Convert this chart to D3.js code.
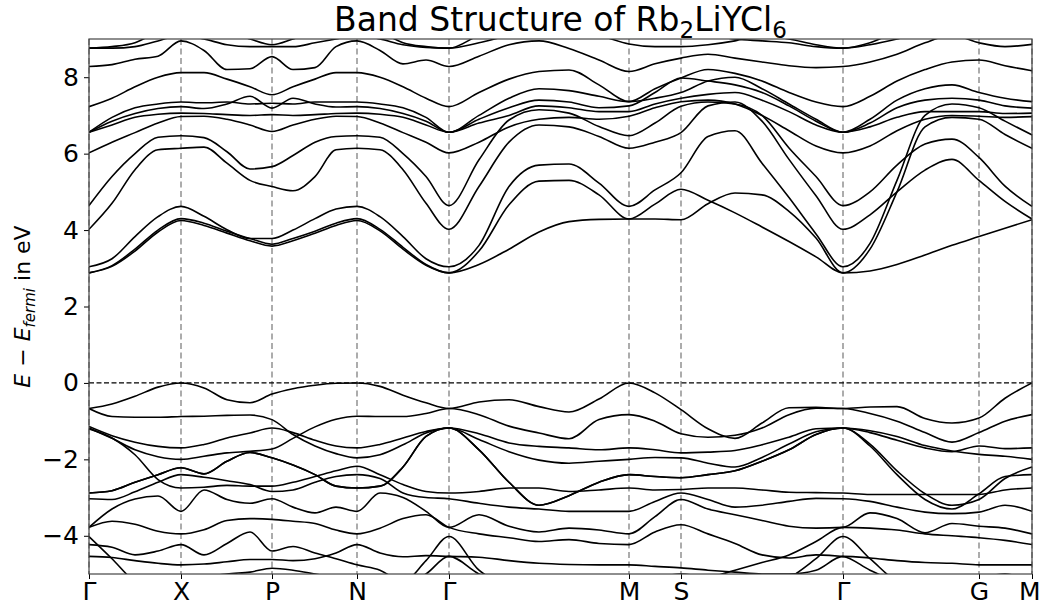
<!DOCTYPE html>
<html>
<head>
<meta charset="utf-8">
<script src="https://cdn.jsdelivr.net/npm/d3@7"></script>
<style>
  body { margin: 0; background: #fff; }
  text { font-family: "DejaVu Sans", sans-serif; fill: #000; }
</style>
</head>
<body>
<div id="chart"></div>
<script>
// high symmetry points along the path
var kLabels = ['Γ', 'X', 'P', 'N', 'Γ', 'M', 'S', 'Γ', 'G', 'M'];
var kTicks = [0, 0.92, 1.83, 2.68, 3.60, 5.40, 5.92, 7.54, 8.90, 9.43];

// k sample points where band energies were read
var kGrid = [0, 0.23, 0.46, 0.69, 0.92, 1.15, 1.38, 1.61, 1.83, 2.04, 2.26, 2.47, 2.68,
    2.91, 3.14, 3.37, 3.60, 3.90, 4.20, 4.50, 4.80, 5.10, 5.40, 5.66, 5.92,
    6.19, 6.46, 6.73, 7.00, 7.27, 7.54, 7.81, 8.08, 8.36, 8.63, 8.90, 9.16, 9.43];

// conduction bands (eV)
var c1 = [2.88, 3.05, 3.45, 3.95, 4.25, 4.12, 3.92, 3.72, 3.58, 3.72, 3.92, 4.12, 4.25, 3.98, 3.5, 3.08, 2.88, 3.1, 3.5, 3.95, 4.22, 4.28, 4.29, 4.29, 4.27, 4.69, 4.97, 4.92, 4.49, 3.79, 2.88, 2.93, 3.1, 3.35, 3.6, 3.83, 4.05, 4.27];
var c2 = [2.88, 3.07, 3.5, 4.0, 4.3, 4.18, 3.97, 3.78, 3.63, 3.78, 3.97, 4.18, 4.3, 4.02, 3.55, 3.1, 2.88, 3.45, 4.66, 5.28, 5.3, 4.92, 4.29, 4.68, 5.07, 4.78, 4.45, 4.08, 3.7, 3.3, 2.88, 3.5, 5.0, 6.7, 6.95, 6.9, 6.5, 6.14];
var c3 = [3.04, 3.25, 3.83, 4.35, 4.62, 4.36, 4.01, 3.78, 3.78, 4.0, 4.3, 4.55, 4.62, 4.35, 3.83, 3.25, 3.04, 3.6, 5.14, 5.7, 5.73, 5.23, 4.62, 5.05, 5.5, 6.45, 6.6, 5.75, 4.85, 3.9, 3.04, 3.65, 5.3, 7.0, 7.3, 7.2, 6.85, 6.49];
var c4 = [4.02, 4.7, 5.58, 6.1, 6.14, 6.17, 5.75, 5.3, 5.14, 5.03, 5.4, 6.1, 6.14, 6.1, 5.58, 4.7, 4.02, 5.14, 6.3, 6.75, 6.7, 6.45, 6.14, 6.3, 6.55, 7.25, 7.35, 6.85, 5.85, 4.9, 4.02, 4.4, 5.0, 5.57, 5.85, 5.3, 4.75, 4.29];
var c5 = [4.64, 5.4, 6.0, 6.43, 6.47, 6.42, 6.05, 5.6, 5.66, 5.95, 6.3, 6.45, 6.47, 6.43, 6.0, 5.4, 4.64, 5.84, 6.88, 7.15, 7.06, 6.71, 6.47, 6.8, 7.24, 7.35, 7.3, 7.0, 6.15, 5.4, 4.64, 5.0, 5.7, 6.25, 6.38, 5.9, 5.15, 4.62];
var c6 = [6.02, 6.3, 6.55, 6.8, 6.97, 6.98, 6.9, 6.75, 6.58, 6.75, 6.9, 6.98, 6.97, 6.8, 6.55, 6.3, 6.02, 6.3, 6.7, 6.9, 6.95, 6.9, 6.98, 7.2, 7.36, 7.4, 7.3, 7.0, 6.6, 6.2, 6.02, 6.2, 6.6, 6.9, 7.0, 6.98, 6.95, 6.97];
var c7 = [6.56, 6.75, 6.95, 7.03, 7.06, 7.05, 7.02, 7.0, 7.02, 7.0, 7.02, 7.05, 7.06, 7.03, 6.95, 6.75, 6.56, 6.8, 7.0, 7.25, 7.2, 7.1, 7.1, 7.3, 7.45, 7.55, 7.6, 7.4, 7.1, 6.75, 6.56, 6.7, 6.95, 7.1, 7.1, 7.1, 7.05, 7.06];
var c8 = [6.56, 6.85, 7.05, 7.18, 7.23, 7.18, 7.3, 7.5, 7.19, 7.45, 7.3, 7.22, 7.23, 7.18, 7.05, 6.85, 6.56, 6.9, 7.2, 7.4, 7.35, 7.2, 7.25, 7.6, 7.98, 7.9, 7.8, 7.6, 7.25, 6.85, 6.56, 6.8, 7.2, 7.4, 7.45, 7.4, 7.25, 7.19];
var c9 = [6.56, 6.95, 7.2, 7.3, 7.35, 7.33, 7.35, 7.3, 7.32, 7.3, 7.35, 7.35, 7.35, 7.3, 7.2, 6.95, 6.56, 7.0, 7.45, 7.7, 7.65, 7.5, 7.36, 7.45, 7.6, 7.9, 8.0, 7.7, 7.3, 6.9, 6.56, 6.9, 7.4, 7.7, 7.8, 7.6, 7.45, 7.36];
var c10 = [7.23, 7.45, 7.75, 8.0, 8.12, 8.12, 7.95, 7.75, 7.54, 7.75, 7.95, 8.12, 8.12, 8.0, 7.75, 7.45, 7.23, 7.6, 7.95, 8.15, 8.19, 7.8, 7.36, 7.7, 7.98, 8.2, 8.1, 7.9, 7.6, 7.35, 7.23, 7.5, 7.9, 8.2, 8.4, 8.45, 8.3, 8.17];
var c11 = [8.28, 8.33, 8.47, 8.55, 8.95, 8.7, 8.2, 8.22, 8.54, 8.2, 8.25, 8.8, 8.95, 8.7, 8.35, 8.45, 8.28, 8.55, 8.85, 8.95, 8.75, 8.45, 8.15, 8.35, 8.5, 8.6, 8.5, 8.4, 8.3, 8.25, 8.28, 8.4, 8.6, 8.9, 9.1, 8.9, 8.8, 8.86];
var c12 = [8.76, 8.76, 8.8, 8.95, 9.1, 9.0, 8.85, 8.8, 8.8, 8.8, 8.9, 9.0, 9.1, 9.0, 8.85, 8.78, 8.76, 8.9, 9.1, 9.3, 9.3, 9.1, 8.87, 8.8, 8.8, 8.85, 8.95, 9.1, 9.0, 8.85, 8.76, 8.85, 9.0, 9.2, 9.3, 9.2, 9.1, 9.1];
var c13 = [8.76, 8.8, 8.9, 9.2, 9.4, 9.3, 9.2, 9.0, 8.85, 9.0, 9.2, 9.3, 9.4, 9.2, 8.9, 8.8, 8.76, 9.1, 9.4, 9.6, 9.6, 9.4, 9.2, 9.1, 9.2, 9.1, 9.0, 8.95, 8.9, 8.8, 8.76, 8.9, 9.2, 9.4, 9.4, 9.3, 9.2, 9.2];

// valence bands (eV)
var v1 = [-0.67, -0.55, -0.35, -0.11, 0, -0.13, -0.44, -0.52, -0.29, -0.15, -0.06, -0.01, 0, -0.09, -0.32, -0.52, -0.67, -0.5, -0.44, -0.62, -0.76, -0.42, 0, -0.26, -0.70, -1.2, -1.45, -1.05, -0.65, -0.64, -0.67, -0.63, -0.62, -0.93, -1.05, -0.92, -0.4, 0];
var v2 = [-0.67, -0.88, -0.9, -0.9, -0.88, -0.87, -0.85, -0.84, -0.96, -1.35, -1.65, -1.85, -1.96, -1.88, -1.62, -1.31, -1.18, -1.33, -1.57, -1.66, -1.70, -1.75, -1.7, -1.75, -1.83, -1.81, -1.77, -1.62, -1.42, -1.2, -1.18, -1.25, -1.4, -1.64, -1.78, -1.87, -1.92, -2.0];
var v3 = [-1.14, -1.38, -1.55, -1.66, -1.70, -1.61, -1.44, -1.31, -1.18, -1.3, -1.5, -1.65, -1.70, -1.61, -1.44, -1.27, -1.18, -1.48, -1.8, -2.02, -2.1, -2.05, -2.0, -1.95, -1.96, -2.1, -2.2, -1.95, -1.6, -1.28, -1.18, -1.3, -1.5, -1.7, -1.8, -1.65, -1.72, -1.7];
var v4 = [-1.18, -1.45, -1.75, -1.93, -2.0, -1.92, -1.83, -1.79, -1.73, -1.45, -1.15, -0.95, -0.87, -0.88, -0.88, -0.8, -0.67, -0.83, -1.13, -1.31, -1.46, -0.96, -0.83, -1.0, -1.33, -1.42, -1.37, -1.18, -0.83, -0.66, -0.67, -0.8, -1.0, -1.3, -1.55, -1.3, -1.0, -0.83];
var v5 = [-1.2, -1.44, -1.88, -2.53, -2.75, -2.73, -2.68, -2.7, -2.7, -2.6, -2.45, -2.3, -2.18, -2.4, -2.66, -2.84, -2.88, -2.84, -2.75, -2.75, -2.84, -2.8, -2.75, -2.8, -2.79, -2.75, -2.75, -2.8, -2.86, -2.87, -2.88, -2.92, -2.92, -2.92, -2.92, -2.92, -2.8, -2.75];
var v6 = [-2.88, -2.82, -2.6, -2.4, -2.22, -2.38, -2.05, -1.82, -1.96, -2.15, -2.4, -2.7, -2.75, -2.7, -2.2, -1.4, -1.18, -1.75, -2.6, -3.2, -2.95, -2.6, -2.4, -2.45, -2.48, -2.4, -2.3, -2.05, -1.75, -1.35, -1.18, -1.6, -2.3, -2.9, -3.2, -3.05, -2.5, -2.2];
var v6b = [-2.88, -2.82, -2.6, -2.4, -2.22, -2.38, -2.05, -1.82, -1.96, -2.15, -2.4, -2.7, -2.75, -2.7, -2.2, -1.4, -1.18, -1.75, -2.6, -3.2, -2.95, -2.6, -2.4, -2.45, -2.48, -2.4, -2.3, -2.05, -1.75, -1.35, -1.18, -1.65, -2.4, -3.05, -3.3, -2.9, -2.45, -2.4];
var v7 = [-3.03, -3.05, -2.85, -2.6, -2.4, -2.47, -2.56, -2.66, -2.84, -2.8, -2.6, -2.45, -2.4, -2.5, -2.88, -3.0, -3.03, -3.15, -3.25, -3.3, -3.36, -3.36, -3.36, -3.1, -2.88, -3.05, -3.25, -3.2, -3.1, -3.02, -3.03, -3.1, -3.25, -3.38, -3.42, -3.38, -3.2, -3.36];
var v8 = [-3.78, -3.3, -3.04, -2.96, -3.36, -2.8, -3.05, -3.15, -3.03, -3.25, -3.4, -3.25, -3.36, -2.88, -3.0, -3.36, -3.78, -3.45, -3.75, -3.9, -3.8, -3.85, -3.95, -3.5, -3.05, -3.3, -3.45, -3.6, -3.75, -3.8, -3.78, -3.4, -3.55, -3.92, -3.68, -3.75, -3.8, -3.95];
var v9 = [-3.78, -3.62, -3.7, -3.88, -3.95, -3.84, -3.6, -3.55, -3.57, -3.62, -3.68, -3.85, -3.95, -3.8, -3.55, -3.45, -3.78, -3.95, -4.05, -4.15, -4.1, -4.2, -4.23, -3.9, -3.71, -3.95, -4.2, -4.5, -4.58, -4.5, -4.54, -4.9, -5.2, -5.3, -5.2, -5.1, -5.0, -5.2];
var v10 = [-4.23, -4.3, -4.5, -4.4, -4.23, -4.5, -4.2, -3.9, -4.4, -4.28, -4.45, -4.6, -4.76, -4.9, -5.2, -4.65, -4.02, -4.9, -5.3, -5.4, -5.4, -5.3, -5.2, -5.1, -5.0, -5.1, -5.2, -5.3, -5.1, -4.6, -4.02, -4.6, -5.2, -5.4, -5.4, -5.3, -5.2, -5.2];
var v11 = [-4.54, -4.57, -4.65, -4.72, -4.76, -4.74, -4.68, -4.62, -4.62, -4.65, -4.6, -4.45, -4.23, -4.45, -4.55, -4.52, -4.54, -4.56, -4.65, -4.72, -4.75, -4.76, -4.76, -4.8, -4.84, -4.9, -4.95, -5.0, -5.0, -4.9, -4.54, -4.58, -4.65, -4.7, -4.72, -4.76, -4.76, -4.76];
var v12 = [-4.02, -4.6, -5.2, -5.4, -5.4, -5.1, -5.0, -4.95, -4.85, -4.9, -5.0, -5.1, -5.2, -5.2, -5.3, -5.0, -4.54, -5.0, -5.3, -5.4, -5.4, -5.3, -5.2, -5.2, -5.2, -5.1, -4.9, -4.7, -4.5, -4.15, -3.78, -3.8, -3.85, -3.95, -4.0, -4.05, -4.12, -4.23];

var bands = [c1, c2, c3, c4, c5, c6, c7, c8, c9, c10, c11, c12, c13,
    v1, v2, v3, v4, v5, v6, v6b, v7, v8, v9, v10, v11, v12];

var yTicks = [-4, -2, 0, 2, 4, 6, 8];

function createChart(elementId) {

    var width = 1041;
    var height = 605;
    var margins = { top: 39, right: 9, bottom: 31, left: 89 };
    var innerWidth = width - margins.left - margins.right;
    var innerHeight = height - margins.top - margins.bottom;

    var svg = d3.select(elementId)
        .append('svg')
        .attr('width', width)
        .attr('height', height);

    var g = svg.append('g')
        .attr('transform', 'translate(' + margins.left + ',' + margins.top + ')');

    var x = d3.scaleLinear().domain([0, 9.43]).range([0, innerWidth]);
    var y = d3.scaleLinear().domain([-5, 9]).range([innerHeight, 0]);

    svg.append('defs').append('clipPath')
        .attr('id', 'plot-clip')
        .append('rect')
        .attr('width', innerWidth)
        .attr('height', innerHeight);

    // vertical lines at the high symmetry points
    g.append('g')
        .selectAll('line')
        .data(kTicks)
        .enter()
        .append('line')
        .attr('x1', function(d) { return x(d); })
        .attr('x2', function(d) { return x(d); })
        .attr('y1', 0)
        .attr('y2', innerHeight)
        .style('stroke', '#808080')
        .style('stroke-width', 1.3)
        .style('stroke-dasharray', '6,3.5');

    // fermi level
    g.append('line')
        .attr('x1', 0)
        .attr('x2', innerWidth)
        .attr('y1', y(0))
        .attr('y2', y(0))
        .style('stroke', '#000')
        .style('stroke-width', 1.3)
        .style('stroke-dasharray', '5,2.5');

    // bands
    var line = d3.line()
        .x(function(d, i) { return x(kGrid[i]); })
        .y(function(d) { return y(d); })
        .curve(d3.curveMonotoneX);

    g.append('g')
        .attr('clip-path', 'url(#plot-clip)')
        .selectAll('path')
        .data(bands)
        .enter()
        .append('path')
        .attr('d', line)
        .style('fill', 'none')
        .style('stroke', '#000')
        .style('stroke-width', 1.6);

    // axes
    var yAxis = d3.axisLeft(y)
        .tickValues(yTicks)
        .tickSize(5)
        .tickPadding(5)
        .tickFormat(function(d) { return d < 0 ? '\u2212' + Math.abs(d) : d; });
    var yG = g.append('g').call(yAxis);

    var xAxis = d3.axisBottom(x)
        .tickValues(kTicks)
        .tickSize(5)
        .tickPadding(3)
        .tickFormat(function(d, i) { return kLabels[i]; });
    var xG = g.append('g')
        .attr('transform', 'translate(0,' + innerHeight + ')')
        .call(xAxis);

    [yG, xG].forEach(function(a) {
        a.select('.domain').remove();
        a.selectAll('line').style('stroke', '#000').style('stroke-width', 1);
        a.selectAll('text')
            .style('font-family', '"DejaVu Sans", sans-serif')
            .style('font-size', '25px')
            .style('fill', '#000');
    });

    // keep the last label (M) inside the picture
    xG.selectAll('.tick text')
        .filter(function(d, i) { return i === kTicks.length - 1; })
        .attr('text-anchor', 'end')
        .attr('x', margins.right - 1);

    // frame
    g.append('rect')
        .attr('width', innerWidth)
        .attr('height', innerHeight)
        .style('fill', 'none')
        .style('stroke', '#444')
        .style('stroke-width', 1.2);

    // title
    var title = svg.append('text')
        .attr('x', margins.left + innerWidth / 2)
        .attr('y', 31)
        .attr('text-anchor', 'middle')
        .style('font-size', '33px');
    title.append('tspan').text('Band Structure of Rb');
    title.append('tspan').attr('dy', 7).style('font-size', '23px').text('2');
    title.append('tspan').attr('dy', -7).text('LiYCl');
    title.append('tspan').attr('dy', 7).style('font-size', '23px').text('6');

    // y label
    var ylab = svg.append('text')
        .attr('transform', 'translate(30,' + (margins.top + innerHeight / 2) + ') rotate(-90)')
        .attr('text-anchor', 'middle')
        .style('font-size', '22px');
    ylab.append('tspan').style('font-style', 'italic').text('E');
    ylab.append('tspan').text(' \u2212 ');
    ylab.append('tspan').style('font-style', 'italic').text('E');
    ylab.append('tspan').attr('dy', 5).style('font-style', 'italic').style('font-size', '15px').text('fermi');
    ylab.append('tspan').attr('dy', -5).text(' in eV');
}

createChart('#chart');
</script>
</body>
</html>
